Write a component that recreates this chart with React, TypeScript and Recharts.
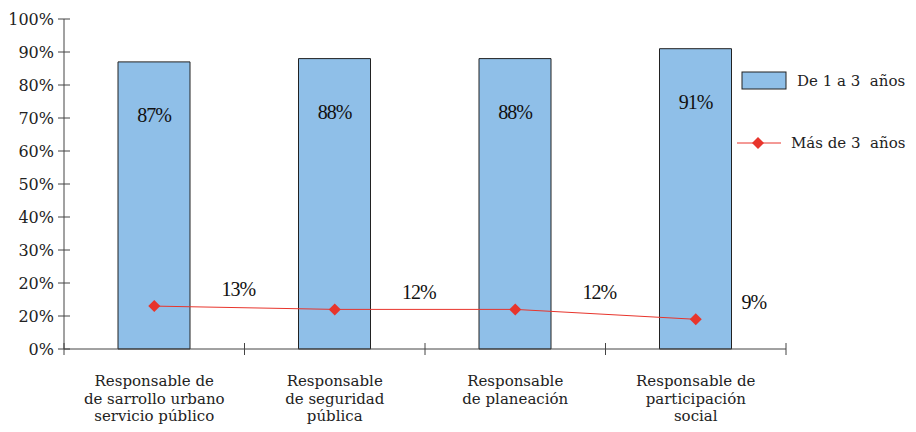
import { Bar, ComposedChart, LabelList, Legend, Line, XAxis, YAxis } from "recharts"

// categorías y valores
const categories = [
  "Responsable de\nde sarrollo urbano\nservicio público",
  "Responsable\nde seguridad\npública",
  "Responsable\nde planeación",
  "Responsable de\nparticipación\nsocial",
]
const deUnoATres = [87, 88, 88, 91]
const masDeTres = [13, 12, 12, 9]
const yTicks = [0, 10, 20, 30, 40, 50, 60, 70, 80, 90, 100]
const yTickLabels = ["0%", "20%", "20%", "30%", "40%", "50%", "60%", "70%", "80%", "90%", "100%"]

const data = categories.map((name, i) => ({
  name,
  "De 1 a 3  años": deUnoATres[i],
  "Más de 3  años": masDeTres[i],
}))

const W = 900
const H = 416
const margin = { top: 11, right: 122, bottom: 0, left: 0 }
const yAxisWidth = 56
const serif = "DejaVu Serif"
const axisColor = "#444"
const barFill = "#8fbfe8"
const red = "#e8352c"
const band = (W - margin.left - margin.right - yAxisWidth) / categories.length

const YTick = (props: any) => {
  const { x, y, index } = props
  return (
    <g>
      <line x1={x - 6} x2={x + 6} y1={y} y2={y} stroke={axisColor} />
      <text x={x - 10} y={y} dy="0.35em" textAnchor="end" fontFamily={serif} fontSize={16} fill="#222">
        {yTickLabels[index]}
      </text>
    </g>
  )
}

const XTick = (props: any) => {
  const { x, y, payload, index } = props
  const lines = String(payload.value).split("\n")
  const left = x - band / 2
  return (
    <g>
      <line x1={left} x2={left} y1={y - 6} y2={y + 6} stroke={axisColor} />
      {index === categories.length - 1 && (
        <line x1={left + band} x2={left + band} y1={y - 6} y2={y + 6} stroke={axisColor} />
      )}
      <text x={x} y={y + 37} textAnchor="middle" fontFamily={serif} fontSize={15} fill="#222">
        {lines.map((l, i) => (
          <tspan key={i} x={x} dy={i === 0 ? 0 : 17.5}>
            {l}
          </tspan>
        ))}
      </text>
    </g>
  )
}

const Diamond = (props: any) => {
  const { cx, cy } = props
  if (cx == null || cy == null) return null
  const r = 6
  return <path d={`M${cx},${cy - r}L${cx + r},${cy}L${cx},${cy + r}L${cx - r},${cy}Z`} fill={red} />
}

const BarValue = (props: any) => {
  const { x, y, width, value } = props
  return (
    <text x={x + width / 2} y={y + 53} dy="0.35em" textAnchor="middle" fontFamily="Liberation Serif" fontSize={20} letterSpacing={-1} fill="#111">
      {value}%
    </text>
  )
}

const LineValue = (props: any) => {
  const { x, y, value, index } = props
  const dx = index === masDeTres.length - 1 ? 58 : 84
  return (
    <text x={x + dx} y={y - 17} dy="0.35em" textAnchor="middle" fontFamily="Liberation Serif" fontSize={20} letterSpacing={-1} fill="#111">
      {value}%
    </text>
  )
}

const LegendBox = (props: any) => {
  const items = props.payload || []
  const barItem = items.find((p: any) => p.type !== "line") || items[0]
  const lineItem = items.find((p: any) => p.type === "line") || items[1]
  return (
    <svg width={180} height={100} style={{ overflow: "visible" }}>
      <rect x={9} y={9} width={44} height={17} fill={barFill} stroke="#222" />
      <text x={64} y={17.5} dy="0.35em" fontFamily={serif} fontSize={15} fill="#222" style={{ whiteSpace: "pre" }}>
        {barItem?.value}
      </text>
      <line x1={4} x2={48} y1={80} y2={80} stroke={red} />
      <Diamond cx={25} cy={80} />
      <text x={58} y={80} dy="0.35em" fontFamily={serif} fontSize={15} fill="#222" style={{ whiteSpace: "pre" }}>
        {lineItem?.value}
      </text>
    </svg>
  )
}

export default function App() {
  return (
    <div style={{ width: W, height: H }}>
      <ComposedChart width={W} height={H} data={data} margin={margin}>
        <XAxis
          dataKey="name"
          height={75}
          stroke={axisColor}
          tickSize={0}
          tickMargin={0}
          tickLine={false}
          tick={<XTick />}
          interval={0}
        />
        <YAxis
          width={yAxisWidth}
          domain={[0, 100]}
          ticks={yTicks}
          stroke={axisColor}
          tickSize={0}
          tickMargin={0}
          tickLine={false}
          tick={<YTick />}
          interval={0}
        />
        <Legend
          layout="vertical"
          align="right"
          verticalAlign="top"
          content={<LegendBox />}
          wrapperStyle={{ position: "absolute", left: 725, top: 55, width: 0, height: 0, overflow: "visible" }}
        />
        <Bar dataKey="De 1 a 3  años" fill={barFill} stroke="#222" strokeWidth={1} barSize={72} isAnimationActive={false}>
          <LabelList dataKey="De 1 a 3  años" content={<BarValue />} />
        </Bar>
        <Line
          dataKey="Más de 3  años"
          stroke={red}
          strokeWidth={1}
          dot={<Diamond />}
          activeDot={false}
          legendType="line"
          isAnimationActive={false}
        >
          <LabelList dataKey="Más de 3  años" content={<LineValue />} />
        </Line>
      </ComposedChart>
    </div>
  )
}
